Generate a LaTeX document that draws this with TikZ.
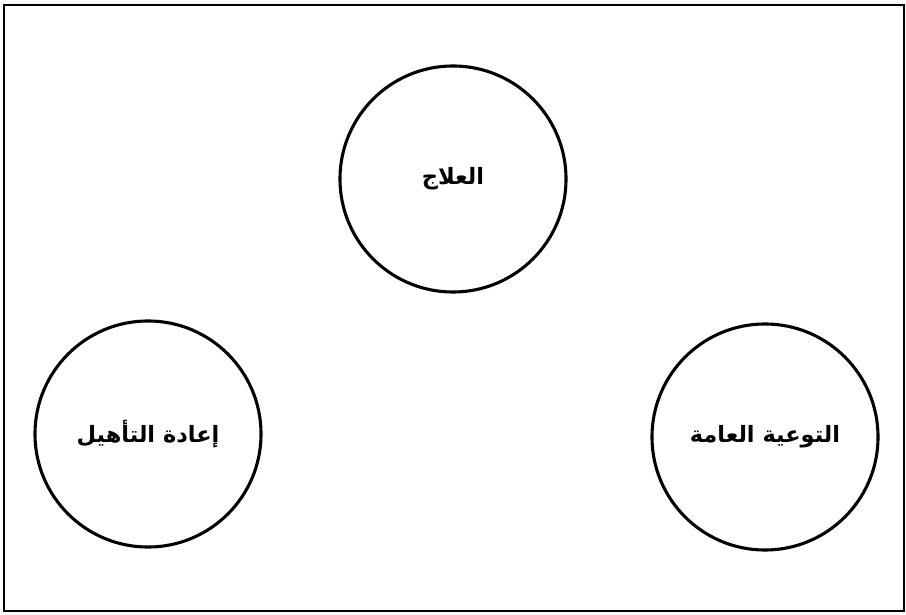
\documentclass[tikz,border=0pt]{standalone}
\usepackage{fontspec}
\usepackage{tikz}
\newfontfamily\arabicfont[Script=Arabic]{DejaVu Sans}
\TeXXeTstate=1

\begin{document}
\begin{tikzpicture}[x=0.025cm, y=-0.025cm,
    area/.style={circle, draw, line width=2.2pt, minimum size=5.65cm, inner sep=0pt,
                 font=\arabicfont\bfseries\fontsize{16}{19}\selectfont}]

    % Frame
    \useasboundingbox (0,0) rectangle (906,615);
    \draw[line width=1.5pt] (4,5) rectangle (904,611);

    % Define the three circles with coordinates
    \node[area] (ilaj) at (453,179) {\beginR العلاج\endR};
    \node[area] (taahil) at (148,434) {\beginR إعادة التأهيل\endR};
    \node[area] (tawiya) at (765,437) {\beginR التوعية العامة\endR};
\end{tikzpicture}
\end{document}
